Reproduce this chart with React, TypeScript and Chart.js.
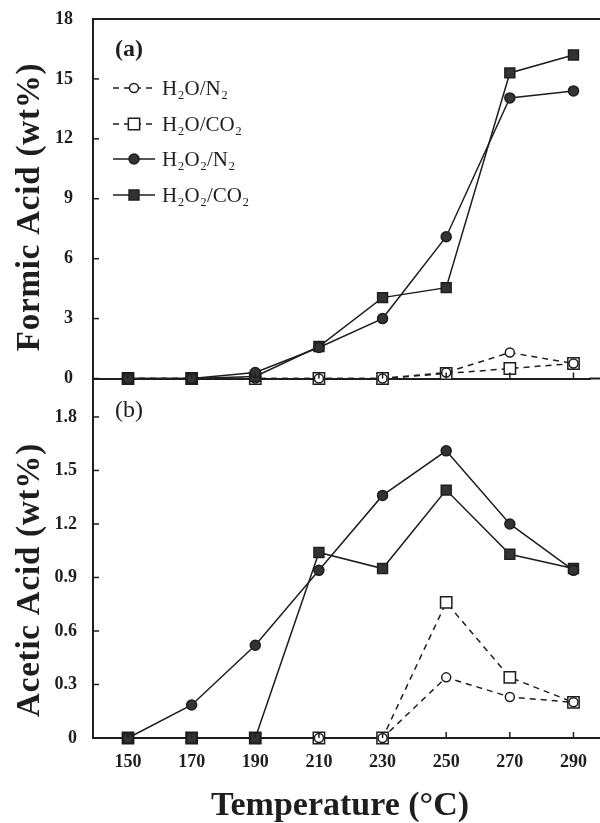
import React, { useEffect, useRef } from "react";
import { Chart, registerables } from "chart.js";

Chart.register(...registerables);

const temps = [150, 170, 190, 210, 230, 250, 270, 290];
const seriesLabels = ["H₂O/N₂", "H₂O/CO₂", "H₂O₂/N₂", "H₂O₂/CO₂"];

const formicH2ON2 = [0, 0, 0, 0, 0, 0.3, 1.3, 0.75];
const formicH2OCO2 = [0, 0, 0, 0, 0, 0.25, 0.5, 0.75];
const formicH2O2N2 = [0, 0, 0.3, 1.55, 3.0, 7.1, 14.05, 14.4];
const formicH2O2CO2 = [0, 0, 0.1, 1.6, 4.05, 4.55, 15.3, 16.2];

const aceticH2ON2 = [0, 0, 0, 0, 0, 0.34, 0.23, 0.2];
const aceticH2OCO2 = [0, 0, 0, 0, 0, 0.76, 0.34, 0.2];
const aceticH2O2N2 = [0, 0.185, 0.52, 0.94, 1.36, 1.61, 1.2, 0.94];
const aceticH2O2CO2 = [0, 0, 0, 1.04, 0.95, 1.39, 1.03, 0.95];

const formicTicks = [0, 3, 6, 9, 12, 15, 18];
const aceticTicks = [0, 0.3, 0.6, 0.9, 1.2, 1.5, 1.8];

const xTitle = "Temperature (°C)";
const formicTitle = "Formic Acid (wt%)";
const aceticTitle = "Acetic Acid (wt%)";

const SERIF = "'Liberation Serif', 'Times New Roman', 'DejaVu Serif', serif";
const INK = "#1e1e1e";
const FILL = "#333333";

type Style = { dash: number[]; point: string; radius: number; filled: boolean };
const styles: Style[] = [
  { dash: [6, 5], point: "circle", radius: 4.5, filled: false },
  { dash: [6, 5], point: "rect", radius: 8, filled: false },
  { dash: [], point: "circle", radius: 5, filled: true },
  { dash: [], point: "rect", radius: 7, filled: true },
];

function makeDatasets(values: number[][]) {
  return values.map((vals, i) => {
    const s = styles[i];
    return {
      label: seriesLabels[i],
      data: vals.map((v, j) => ({ x: temps[j], y: v })),
      borderColor: INK,
      borderWidth: 1.5,
      borderDash: s.dash,
      pointStyle: s.point,
      pointRadius: s.radius,
      pointBackgroundColor: s.filled ? FILL : "#ffffff",
      pointBorderColor: INK,
      pointBorderWidth: 1.5,
      order: s.filled ? 0 : 1,
      fill: false,
      tension: 0,
      clip: false,
    };
  });
}

function drawMarker(ctx: CanvasRenderingContext2D, s: Style, x: number, y: number) {
  ctx.save();
  ctx.setLineDash([]);
  ctx.fillStyle = s.filled ? FILL : "#ffffff";
  ctx.strokeStyle = INK;
  ctx.lineWidth = 1.5;
  ctx.beginPath();
  if (s.point === "circle") {
    ctx.arc(x, y, s.radius, 0, Math.PI * 2);
  } else {
    const h = s.radius * Math.SQRT1_2;
    ctx.rect(x - h, y - h, 2 * h, 2 * h);
  }
  ctx.fill();
  ctx.stroke();
  ctx.restore();
}

function decorPlugin(panel: "a" | "b") {
  return {
    id: "decor" + panel,
    afterDraw(chart: any) {
      const ctx: any = chart.ctx;
      const { left, right, top, bottom } = chart.chartArea;
      const xs = chart.scales.x;
      const ys = chart.scales.y;
      ctx.save();
      ctx.strokeStyle = INK;
      ctx.lineWidth = 1.5;
      ctx.setLineDash([]);
      ys.ticks.forEach((t: any) => {
        const py = ys.getPixelForValue(t.value);
        ctx.beginPath();
        ctx.moveTo(left, py);
        ctx.lineTo(left + 6, py);
        ctx.stroke();
      });
      xs.ticks.forEach((t: any) => {
        const px = xs.getPixelForValue(t.value);
        ctx.beginPath();
        ctx.moveTo(px, bottom);
        ctx.lineTo(px, bottom - 6);
        ctx.stroke();
      });
      // extend axis lines to the right edge of the picture
      ctx.lineWidth = 2;
      ctx.beginPath();
      ctx.moveTo(right - 1, bottom);
      ctx.lineTo(chart.width, bottom);
      ctx.stroke();
      if (panel === "a") {
        ctx.beginPath();
        ctx.moveTo(left, top);
        ctx.lineTo(chart.width, top);
        ctx.stroke();
      }
      ctx.fillStyle = INK;
      ctx.textBaseline = "middle";
      ctx.textAlign = "left";
      ctx.font = (panel === "a" ? "bold " : "") + "24px " + SERIF;
      ctx.fillText(panel === "a" ? "(a)" : "(b)", left + 22, top + 31);
      if (panel === "a") {
        const rows = [88, 124, 159, 195];
        ctx.font = "21px " + SERIF;
        styles.forEach((s, i) => {
          const y = rows[i];
          ctx.save();
          ctx.strokeStyle = INK;
          ctx.lineWidth = 1.5;
          ctx.setLineDash(s.dash.length ? [6, 5] : []);
          ctx.beginPath();
          ctx.moveTo(left + 20, y);
          ctx.lineTo(left + 62, y);
          ctx.stroke();
          ctx.restore();
          drawMarker(ctx, s, left + 41, y);
          ctx.fillStyle = INK;
          ctx.fillText(seriesLabels[i], left + 69, y + 1);
        });
      }
      // axis titles
      ctx.save();
      ctx.fillStyle = INK;
      ctx.font = "bold 33px " + SERIF;
      ctx.letterSpacing = "0.8px";
      ctx.textAlign = "center";
      ctx.textBaseline = "middle";
      ctx.translate(30, panel === "a" ? 207 : 210);
      ctx.rotate(-Math.PI / 2);
      ctx.fillText(panel === "a" ? formicTitle : aceticTitle, 0, 0);
      ctx.restore();
      if (panel === "b") {
        ctx.save();
        ctx.fillStyle = INK;
        ctx.font = "bold 34px " + SERIF;
        ctx.textAlign = "center";
        ctx.textBaseline = "alphabetic";
        ctx.fillText(xTitle, 340, 445);
        ctx.restore();
      }
      ctx.restore();
    },
  };
}

function zeroPad(s: any) {
  s.paddingTop = 0;
  s.paddingBottom = 0;
  s.paddingLeft = 0;
  s.paddingRight = 0;
}

function makeConfig(panel: "a" | "b") {
  const isA = panel === "a";
  const values = isA
    ? [formicH2ON2, formicH2OCO2, formicH2O2N2, formicH2O2CO2]
    : [aceticH2ON2, aceticH2OCO2, aceticH2O2N2, aceticH2O2CO2];
  const yTicks = isA ? formicTicks : aceticTicks;
  return {
    type: "line",
    data: { datasets: makeDatasets(values) },
    options: {
      responsive: false,
      animation: false,
      events: [],
      layout: { padding: { top: isA ? 19 : 9, left: 0, right: 0, bottom: 0 } },
      plugins: { legend: { display: false }, tooltip: { enabled: false } },
      scales: {
        x: {
          type: "linear",
          min: 139,
          max: 295.35,
          afterBuildTicks: (s: any) => {
            s.ticks = temps.map((v) => ({ value: v }));
          },
          afterFit: (s: any) => {
            s.height = isA ? 2 : 85;
            zeroPad(s);
          },
          grid: { display: false, drawTicks: false },
          border: { display: true, color: INK, width: 2 },
          ticks: {
            display: !isA,
            padding: 14,
            color: INK,
            font: { family: SERIF, size: 18, weight: "bold" },
            callback: (v: any) => String(v),
          },
          title: { display: false },
        },
        y: {
          type: "linear",
          min: 0,
          max: isA ? 18 : 2.01,
          afterBuildTicks: (s: any) => {
            s.ticks = yTicks.map((v) => ({ value: v }));
          },
          afterFit: (s: any) => {
            s.width = 93;
            zeroPad(s);
          },
          grid: { display: false, drawTicks: false },
          border: { display: true, color: INK, width: 2 },
          ticks: {
            padding: isA ? 20 : 16,
            color: INK,
            font: { family: SERIF, size: 18, weight: "bold" },
            callback: (v: any) => (v === 0 ? "0" : isA ? String(v) : Number(v).toFixed(1)),
          },
          title: { display: false },
        },
      },
    },
    plugins: [decorPlugin(panel)],
  } as any;
}

export default function App() {
  const refA = useRef<HTMLCanvasElement>(null);
  const refB = useRef<HTMLCanvasElement>(null);
  useEffect(() => {
    const a = new Chart(refA.current as HTMLCanvasElement, makeConfig("a"));
    const b = new Chart(refB.current as HTMLCanvasElement, makeConfig("b"));
    return () => {
      a.destroy();
      b.destroy();
    };
  }, []);
  return (
    <div style={{ position: "absolute", left: 0, top: 0, width: 600, height: 823, background: "#fff", overflow: "hidden" }}>
      <canvas ref={refB} width={600} height={453} style={{ position: "absolute", left: 0, top: 370, width: 600, height: 453 }} />
      <canvas ref={refA} width={600} height={388} style={{ position: "absolute", left: 0, top: 0, width: 600, height: 388 }} />
    </div>
  );
}
